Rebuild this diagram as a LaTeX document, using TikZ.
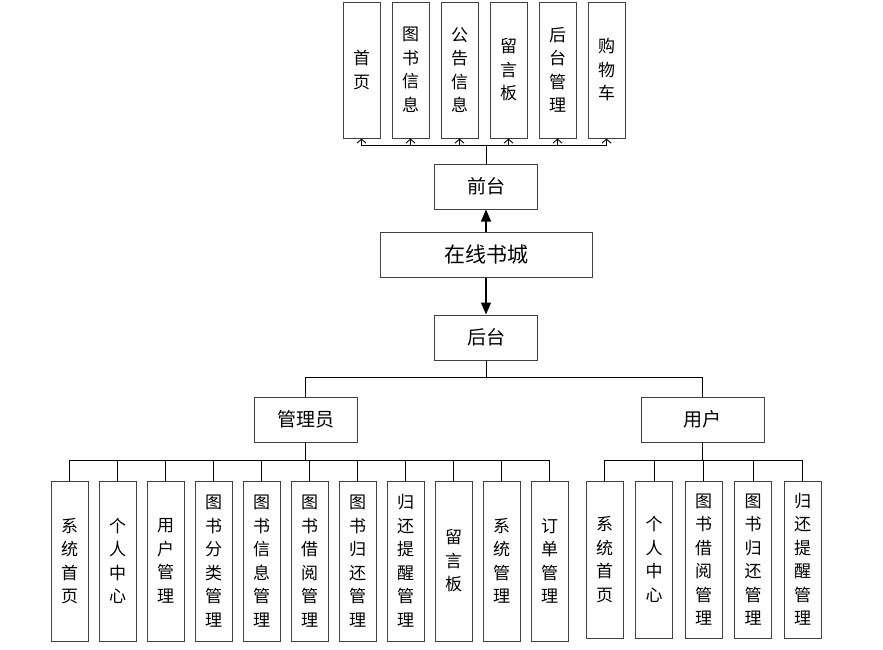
\documentclass[tikz,border=0pt]{standalone}
\usepackage{fontspec}
\newfontfamily\cjk{Noto Sans CJK SC}
\usetikzlibrary{arrows.meta, positioning}

\begin{document}
\begin{tikzpicture}[
  x=1pt, y=-1pt,
  box/.style={draw=black!75, line width=1pt, align=center, inner sep=0pt},
  midbox/.style={box, minimum width=103pt, minimum height=45pt, font=\cjk\fontsize{19}{22}\selectfont},
  vbox/.style={box, minimum width=37pt, text width=37pt, font=\cjk\fontsize{17}{23.5}\selectfont},
  topbox/.style={vbox, minimum height=136pt},
  leafbox/.style={vbox, minimum height=160pt},
  userleaf/.style={vbox, minimum height=157pt},
  link/.style={line width=0.9pt},
  openflow/.style={link, -{Straight Barb[length=4pt,width=9pt]}},
  flow/.style={line width=1.2pt, -{Triangle[length=12pt,width=10pt]}}
]
\useasboundingbox (0,0) rectangle (883,649);

% centre column
\node[box, minimum width=212pt, minimum height=45pt, font=\cjk\fontsize{21}{24}\selectfont] (shop) at (486,254.5) {在线书城};
\node[midbox, above=22pt of shop] (front) {前台};
\node[midbox, below=37pt of shop] (back) {后台};
\draw[flow] (shop) -- (front);
\draw[flow] (shop) -- (back);

% front pages
\foreach \name [count=\i from 0] in {首\\页, 图\\书\\信\\息, 公\\告\\信\\息, 留\\言\\板, 后\\台\\管\\理, 购\\物\\车}
  \node[topbox] (f\i) at (361.5+49*\i,70) {\name};
\foreach \i in {0,...,5}
  \draw[openflow] (front.north) -- ++(0,-18) -| (f\i.south);

% back end roles
\node[midbox] (admin) at (305.5,419.5) {管理员};
\node[midbox, minimum width=123pt] (user) at (702.5,419.5) {用户};
\draw[link] (back.south) -- ++(0,17) -| (admin.north);
\draw[link] (back.south) -- ++(0,17) -| (user.north);

% admin functions
\foreach \name [count=\i from 0] in {系\\统\\首\\页, 个\\人\\中\\心, 用\\户\\管\\理, 图\\书\\分\\类\\管\\理, 图\\书\\信\\息\\管\\理, 图\\书\\借\\阅\\管\\理, 图\\书\\归\\还\\管\\理, 归\\还\\提\\醒\\管\\理, 留\\言\\板, 系\\统\\管\\理, 订\\单\\管\\理}
  \node[leafbox] (a\i) at (69.5+48*\i,561) {\name};
\foreach \i in {0,...,10}
  \draw[link] (admin.south) -- ++(0,18) -| (a\i.north);

% user functions
\foreach \name [count=\i from 0] in {系\\统\\首\\页, 个\\人\\中\\心, 图\\书\\借\\阅\\管\\理, 图\\书\\归\\还\\管\\理, 归\\还\\提\\醒\\管\\理}
  \node[userleaf] (u\i) at (604.5+49.5*\i,559.5) {\name};
\foreach \i in {0,...,4}
  \draw[link] (user.south) -- ++(0,18) -| (u\i.north);
\end{tikzpicture}
\end{document}
